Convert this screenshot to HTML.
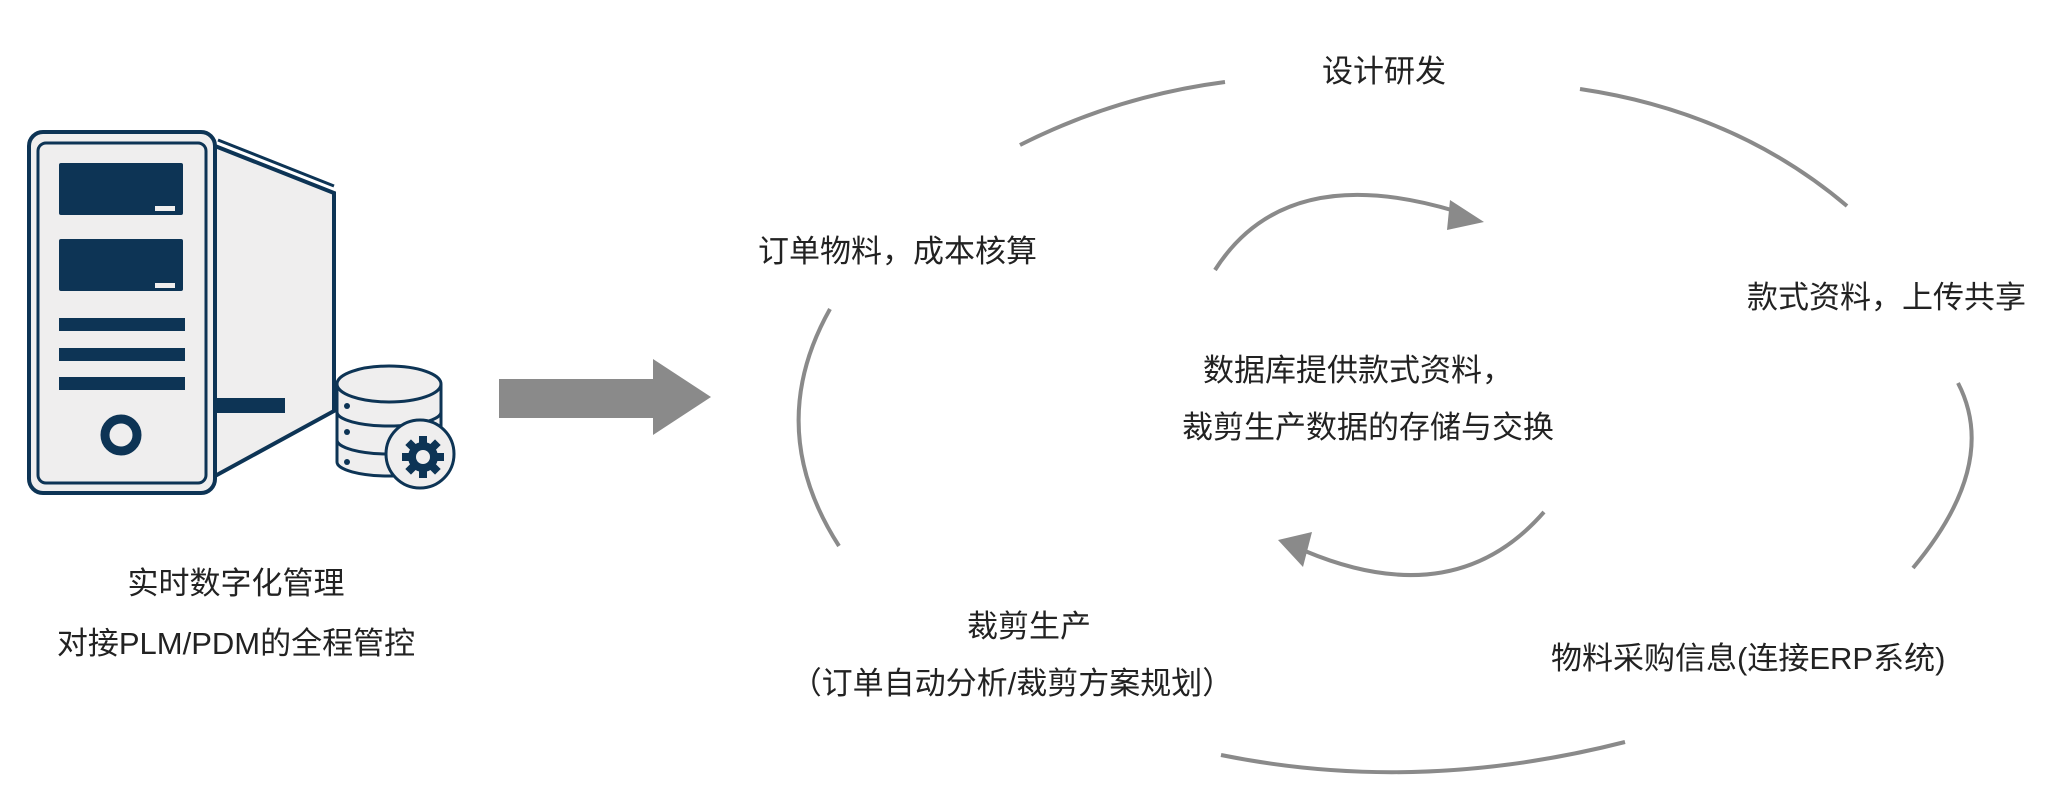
<!DOCTYPE html>
<html><head><meta charset="utf-8"><style>
html,body{margin:0;padding:0;background:#fff;}
body{width:2047px;height:808px;position:relative;overflow:hidden;font-family:"Liberation Sans","Noto Sans CJK SC",sans-serif;color:#222;}
.t{position:absolute;font-size:31px;white-space:nowrap;line-height:1;}
.c{transform:translateX(-50%);}
</style></head><body>
<svg width="2047" height="808" style="position:absolute;left:0;top:0">
<g stroke="#0d3455" fill="#efeeee">
<path d="M215,146 L334,193 L334,411 L215,476 Z" stroke-width="4"/>
<path d="M218,140 L334,186" stroke-width="3" fill="none"/>
<rect x="29" y="132" width="186" height="361" rx="14" stroke-width="4"/>
<rect x="38" y="143" width="168" height="340" rx="8" stroke-width="3"/>
</g>
<g fill="#0d3455">
<rect x="59" y="163" width="124" height="52" rx="2"/>
<rect x="59" y="239" width="124" height="52" rx="2"/>
<rect x="59" y="318" width="126" height="13"/>
<rect x="59" y="348" width="126" height="13"/>
<rect x="59" y="377" width="126" height="13"/>
<rect x="213" y="398" width="72" height="15"/>
</g>
<rect x="155" y="206" width="20" height="5" fill="#efeeee"/>
<rect x="155" y="283" width="20" height="5" fill="#efeeee"/>
<circle cx="121" cy="435" r="16" fill="none" stroke="#0d3455" stroke-width="9"/>
<g stroke="#0d3455" stroke-width="3" fill="#efeeee">
<path d="M337,384 L337,462 A52,14 0 0 0 441,462 L441,384"/>
<path d="M337,412 A52,14 0 0 0 441,412" fill="none"/>
<path d="M337,440 A52,14 0 0 0 441,440" fill="none"/>
<ellipse cx="389" cy="384" rx="52" ry="18"/>
<circle cx="420" cy="454" r="34"/>
</g>
<circle cx="347" cy="406" r="3" fill="#0d3455"/><circle cx="347" cy="432" r="3" fill="#0d3455"/><circle cx="347" cy="462" r="3" fill="#0d3455"/>
<g transform="translate(423,457)" fill="#0d3455">
<circle r="15"/>
<g><rect x="-4" y="-21" width="8" height="42"/><rect x="-21" y="-4" width="42" height="8"/>
<rect x="-4" y="-21" width="8" height="42" transform="rotate(45)"/><rect x="-4" y="-21" width="8" height="42" transform="rotate(-45)"/></g>
<circle r="7" fill="#efeeee"/>
</g>
<rect x="499" y="379" width="156" height="39" fill="#8a8a8a"/>
<polygon points="653,359 711,397 653,435" fill="#8a8a8a"/>
<g stroke="#8a8a8a" stroke-width="4" fill="none">
<path d="M1020,145 Q1117,96 1225,82"/>
<path d="M1580,89 Q1736,112 1847,206"/>
<path d="M1958,383 Q2000,464 1913,568"/>
<path d="M1625,742 Q1417,795 1221,755"/>
<path d="M830,309 Q763,428 839,546"/>
<path d="M1215,270 Q1285,160 1455,211"/>
<path d="M1544,512 Q1455,614 1305,551"/>
</g>
<polygon points="1484,222 1450,200 1447,230" fill="#8a8a8a"/>
<polygon points="1278,540 1312,532 1303,567" fill="#8a8a8a"/>
</svg>
<div class="t c" style="left:236px;top:568px">实时数字化管理</div>
<div class="t c" style="left:236px;top:628px">对接PLM/PDM的全程管控</div>
<div class="t c" style="left:1384px;top:56px">设计研发</div>
<div class="t" style="left:758px;top:236px">订单物料，成本核算</div>
<div class="t" style="left:1747px;top:282px">款式资料，上传共享</div>
<div class="t c" style="left:1358px;top:355px">数据库提供款式资料，</div>
<div class="t c" style="left:1368px;top:412px">裁剪生产数据的存储与交换</div>
<div class="t c" style="left:1029px;top:611px">裁剪生产</div>
<div class="t c" style="left:1012px;top:668px">（订单自动分析/裁剪方案规划）</div>
<div class="t" style="left:1551px;top:643px">物料采购信息(连接ERP系统)</div>
</body></html>
